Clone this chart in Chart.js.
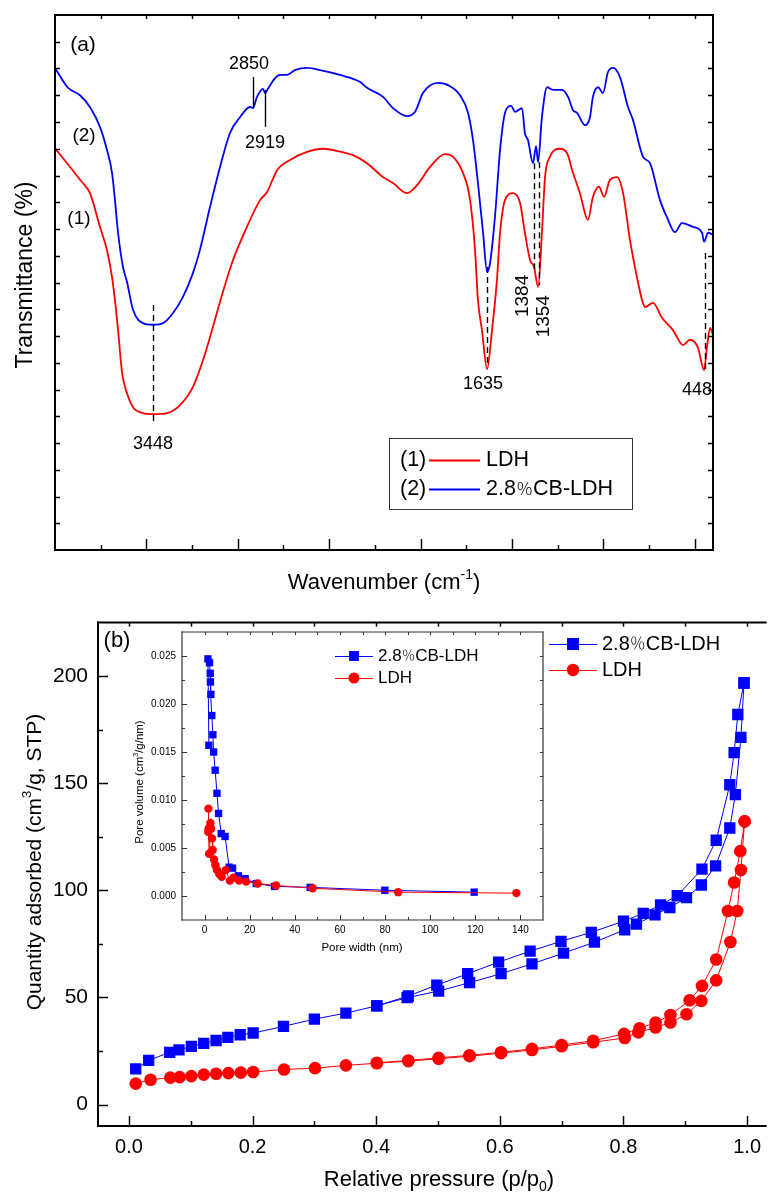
<!DOCTYPE html>
<html>
<head>
<meta charset="utf-8">
<title>FTIR and N2 sorption</title>
<script src="https://cdn.jsdelivr.net/npm/chart.js@4.4.1/dist/chart.umd.min.js"></script>
<style>
  html, body { margin: 0; padding: 0; background: #fff; }
  #wrap { position: relative; width: 770px; height: 1195px; overflow: hidden; }
  canvas { position: absolute; }
  #ftir { left: 0; top: 0; }
  #bet { left: 0; top: 600px; }
  #psd { left: 120px; top: 620px; }
</style>
</head>
<body>
<div id="wrap">
  <canvas id="ftir" width="770" height="600"></canvas>
  <canvas id="bet" width="770" height="595"></canvas>
  <canvas id="psd" width="440" height="345"></canvas>
</div>
<script>
// ---- (a) FTIR spectra, wavenumber (cm-1) vs transmittance (a.u.) ----
const IR_LDH_WN = [4000,3934,3863,3809,3754,3716,3688,3672,3655,3633,3606,3573,3519,3464,3387,3316,3245,3190,3136,3086,
  3026,2950,2878,2840,2785,2714,2621,2534,2457,2370,2293,2205,2151,2074,2019,1948,1866,1822,1768,1729,
  1702,1686,1664,1636,1609,1582,1565,1538,1494,1456,1429,1401,1379,1357,1336,1319,1292,1237,1199,1166,
  1128,1084,1057,1024,996,964,925,892,854,816,788,772,728,679,619,564,526,482,449,433,416,400];
const IR_LDH_T = [75.1,72.3,69.2,66.7,60.4,56.1,51.0,46.7,41.1,33.1,29.3,26.7,25.6,25.4,25.6,27.1,30.5,35.5,41.7,47.7,
  54.2,60.4,65.4,66.9,71.0,72.9,74.4,75.0,74.6,73.8,72.3,69.7,68.6,66.7,68.2,71.6,74.0,73.5,70.5,65.4,
  56.1,46.7,41.1,33.8,41.1,50.5,59.3,65.4,66.7,64.9,59.3,54.2,52.9,49.2,59.3,69.7,73.5,75.0,74.2,70.5,
  66.7,61.7,66.0,67.9,66.0,69.2,69.7,66.7,57.9,51.0,46.7,45.4,46.2,43.4,41.1,38.3,39.3,37.8,33.6,37.9,41.5,40.2];
const IR_CB_WN = [4000,3929,3863,3809,3754,3716,3688,3672,3655,3628,3606,3573,3519,3464,3409,3354,3300,3245,3207,3152,
  3097,3043,2988,2933,2917,2895,2862,2851,2835,2796,2769,2731,2687,2621,2550,2441,2331,2293,2205,2151,
  2074,2030,1987,1905,1839,1784,1740,1713,1686,1658,1636,1620,1593,1565,1538,1505,1483,1445,1429,1412,
  1385,1368,1357,1336,1308,1275,1226,1193,1166,1144,1100,1073,1057,1029,1002,975,947,909,865,838,
  783,745,690,652,608,570,510,460,449,427,400];
const IR_CB_T = [90.1,86.4,85.0,82.8,79.1,74.8,70.5,65.4,59.3,52.9,50.1,44.9,42.4,42.1,42.4,44.3,47.3,51.8,56.1,64.1,
  71.6,77.9,80.9,82.8,82.6,84.7,86.2,85.4,86.2,88.2,88.8,88.8,89.7,90.1,89.7,88.8,87.5,86.4,84.7,82.6,
  81.1,81.9,85.4,87.3,86.7,85.0,81.7,76.6,68.6,59.3,52.0,53.6,62.2,74.8,81.7,83.0,81.9,82.6,77.9,76.6,
  72.3,75.5,72.5,80.9,86.5,86.0,86.0,84.7,82.2,81.7,79.4,80.9,84.7,86.5,85.4,89.3,90.1,88.4,82.8,80.4,
  73.5,72.3,65.4,62.2,59.4,61.1,60.4,59.3,57.6,59.3,58.9];

// ---- (b) N2 isotherms, relative pressure vs quantity adsorbed ----
const BET_P_CB_ADS = [0.011,0.032,0.066,0.081,0.101,0.121,0.141,0.160,0.180,0.201,0.250,0.300,0.351,0.401,0.450,0.501,
  0.551,0.602,0.652,0.703,0.753,0.802,0.821,0.851,0.875,0.902,0.926,0.949,0.972,0.981,0.990,0.995];
const BET_Q_CB_ADS = [16.7,20.6,24.4,25.5,27.2,28.6,29.9,31.4,32.6,33.4,36.5,39.9,42.7,46.1,49.9,53.0,
  56.9,61.1,65.7,70.7,75.8,81.6,84.2,88.6,92.0,96.6,102.5,111.4,129.1,144.7,171.4,196.8];
const BET_P_CB_DES = [0.995,0.985,0.979,0.972,0.950,0.927,0.887,0.860,0.832,0.800,0.748,0.699,0.649,0.598,0.548,0.498,0.452,0.401];
const BET_Q_CB_DES = [196.8,182.1,164.3,149.3,123.4,109.9,97.5,93.2,89.3,85.6,80.4,76.2,71.6,66.5,61.1,55.8,50.7,46.1];
const BET_P_LDH_ADS = [0.011,0.035,0.067,0.082,0.101,0.121,0.141,0.161,0.181,0.201,0.251,0.301,0.351,0.401,0.452,0.501,
  0.551,0.602,0.652,0.700,0.751,0.802,0.824,0.852,0.876,0.902,0.926,0.950,0.973,0.984,0.990,0.996];
const BET_Q_LDH_ADS = [9.8,11.6,12.6,12.8,13.3,14.0,14.4,14.7,14.9,15.2,16.4,17.0,18.3,19.3,20.3,21.4,
  22.6,24.0,25.5,27.2,29.1,31.1,33.7,36.0,38.3,42.2,48.4,58.0,75.9,90.4,109.5,132.2];
const BET_P_LDH_DES = [0.996,0.989,0.979,0.969,0.950,0.927,0.907,0.876,0.852,0.826,0.801,0.751,0.700,0.652,0.602,0.551,0.501,0.452,0.401];
const BET_Q_LDH_DES = [132.2,118.3,103.7,90.4,67.7,55.4,48.7,41.8,38.3,35.6,33.0,29.8,27.8,26.0,24.4,23.0,21.8,20.6,19.5];
const BET_X_TICKS = [0, 0.2, 0.4, 0.6, 0.8, 1.0];
const BET_Y_TICKS = [0, 50, 100, 150, 200];

// ---- inset: pore size distribution ----
const PSD_W_CB = [1.9,1.5,2.2,2.5,2.6,2.8,3.2,3.7,4.0,4.7,5.5,6.2,7.4,9.1,10.9,12.4,15.0,18.0,22.9,31.0,46.8,79.9,119.5];
const PSD_V_CB = [0.0157,0.0247,0.0243,0.0232,0.0223,0.0210,0.0188,0.0168,0.0150,0.0131,0.0107,0.0086,0.0065,0.0062,
  0.0030,0.0029,0.0021,0.0018,0.0013,0.0010,0.0009,0.0006,0.0004];
const PSD_W_LDH = [1.6,1.7,1.8,2.0,2.3,2.6,2.9,3.3,3.6,4.2,4.8,5.5,6.5,7.6,9.4,11.2,12.8,15.3,18.4,23.5,31.7,47.9,85.8,138.2];
const PSD_V_LDH = [0.0067,0.0091,0.0070,0.0044,0.0072,0.0076,0.0070,0.0060,0.0048,0.0038,0.0032,0.0027,0.0023,0.0020,
  0.0027,0.0016,0.0019,0.0016,0.0015,0.0013,0.0011,0.0008,0.0004,0.0003];
const PSD_X_TICKS = [0, 20, 40, 60, 80, 100, 120, 140];
const PSD_Y_TICKS = [0, 0.005, 0.010, 0.015, 0.020, 0.025];

const FONT = 'Arial, "Liberation Sans", "Noto Sans CJK SC", sans-serif';
const CJK_FONT = '"Noto Sans CJK SC", sans-serif';
const RED = "#ff0000";
const BLUE = "#0000ff";
const PCT = "\uFF05";

function zip(xs, ys) {
  return xs.map((x, i) => ({ x: x, y: ys[i] }));
}

// text with optional super/subscript pieces; the full-width percent sign goes to the CJK font
function richText(ctx, parts, x, y, size, rot, align) {
  const small = Math.round(size * 0.62);
  const items = [];
  parts.forEach((p) => {
    const it = typeof p === "string" ? { t: p } : p;
    it.t.split(PCT).forEach((chunk, i) => {
      if (i > 0) items.push({ t: PCT, cjk: true, s: size * 0.8 });
      if (chunk) items.push(Object.assign({}, it, { t: chunk }));
    });
  });
  const fontOf = (it) => it.cjk ? "300 " + it.s + "px " + CJK_FONT : (it.sup || it.sub ? small : size) + "px " + FONT;
  ctx.save();
  ctx.translate(x, y);
  if (rot) ctx.rotate(rot);
  let total = 0;
  items.forEach((it) => {
    ctx.font = fontOf(it);
    it.w = ctx.measureText(it.t).width;
    total += it.w;
  });
  let cx = align === "left" ? 0 : align === "right" ? -total : -total / 2;
  ctx.textAlign = "left";
  ctx.textBaseline = "middle";
  ctx.fillStyle = "#000";
  items.forEach((it) => {
    ctx.font = fontOf(it);
    const dy = it.sup ? -size * 0.36 : it.sub ? size * 0.32 : it.cjk ? -size * 0.04 : 0;
    ctx.fillText(it.t, cx, dy);
    cx += it.w;
  });
  ctx.restore();
}

function marker(ctx, style, x, y, r, color) {
  ctx.fillStyle = color;
  ctx.beginPath();
  if (style === "rect") {
    const h = r * Math.SQRT1_2;
    ctx.rect(x - h, y - h, 2 * h, 2 * h);
  } else {
    ctx.arc(x, y, r, 0, Math.PI * 2);
  }
  ctx.fill();
}

// per-canvas decoration: frame, inward ticks, peak marks, texts, legend
const DECOR = {
  ftir: {
    frame: { width: 2, color: "#000", sides: ["left", "bottom", "top", "right"] },
    ticks: [
      { side: "bottom", len: 11, values: [3500, 3000, 2500, 2000, 1500, 1000, 500] },
      { side: "bottom", len: 5, values: [3750, 3250, 2750, 2250, 1750, 1250, 750] },
      { side: "top", len: 4, values: [3750, 3500, 3250, 3000, 2750, 2500, 2250, 2000, 1750, 1500, 1250, 1000, 750, 500] },
      { side: "left", len: 5, values: [5,10,15,20,25,30,35,40,45,50,55,60,65,70,75,80,85,90,95] },
      { side: "right", len: 5, values: [5,10,15,20,25,30,35,40,45,50,55,60,65,70,75,80,85,90,95] },
    ],
    marks: [
      { x: 2917, y1: 88.4, y2: 82.6 },
      { x: 2851, y1: 86.0, y2: 79.1 },
      { x: 3464, y1: 45.8, y2: 23.4, dash: true },
      { x: 1636, y1: 52.9, y2: 35.0, dash: true },
      { x: 1379, y1: 72.3, y2: 52.0, dash: true },
      { x: 1352, y1: 72.5, y2: 49.5, dash: true },
      { x: 444, y1: 55.5, y2: 33.6, dash: true },
    ],
    labels: [
      { t: "(a)", x: 3847, y: 94.4, size: 21 },
      { t: "(2)", x: 3841, y: 77.4, size: 19 },
      { t: "(1)", x: 3869, y: 61.9, size: 19 },
      { t: "2850", x: 2939, y: 90.8, size: 18 },
      { t: "2919", x: 2851, y: 76.1, size: 18 },
      { t: "3448", x: 3464, y: 19.8, size: 18 },
      { t: "1635", x: 1658, y: 31.0, size: 18 },
      { t: "1384", x: 1440, y: 47.5, size: 19, rot: -Math.PI / 2 },
      { t: "1354", x: 1325, y: 43.7, size: 19, rot: -Math.PI / 2 },
      { t: "448", x: 488, y: 29.9, size: 18 },
    ],
    titles: [
      { parts: ["Transmittance (%)"], x: 26, y: 275, size: 23, rot: -Math.PI / 2 },
      { parts: ["Wavenumber (cm", { t: "-1", sup: true }, ")"], x: 384, y: 583, size: 22 },
    ],
    legend: {
      box: { x: 389, y: 438, w: 243, h: 71 },
      size: 21.5, y0: 460, dy: 29, prefixX: 400, x1: 429, x2: 480, tx: 486, lineWidth: 2,
      rows: [{ ds: 0, prefix: "(1)" }, { ds: 1, prefix: "(2)" }],
    },
  },
  bet: {
    frame: { width: 2, color: "#000", sides: ["left", "bottom", "top"] },
    ticks: [
      { side: "bottom", len: 10, values: BET_X_TICKS },
      { side: "bottom", len: 5, values: [0.1, 0.3, 0.5, 0.7, 0.9] },
      { side: "left", len: 10, values: BET_Y_TICKS },
      { side: "left", len: 5, values: [25, 75, 125, 175] },
      { side: "top", len: 4, values: [0, 0.1, 0.2, 0.3, 0.4, 0.5, 0.6, 0.7, 0.8, 0.9, 1.0] },
    ],
    labels: [],
    titles: [
      { parts: ["(b)"], x: 117, y: 41, size: 22 },
      { parts: ["Quantity adsorbed (cm", { t: "3", sup: true }, "/g, STP)"], x: 35, y: 262, size: 21, rot: -Math.PI / 2 },
      { parts: ["Relative pressure (p/p", { t: "0", sub: true }, ")"], x: 439, y: 580, size: 22 },
    ],
    legend: {
      size: 20, y0: 44, dy: 26, x1: 549, x2: 597, xm: 573, tx: 602, lineWidth: 1,
      rows: [{ ds: 0, style: "rect", r: 8.5 }, { ds: 2, style: "circle", r: 6.2 }],
    },
  },
  psd: {
    fill: "#fff",
    frame: { width: 1.2, color: "#333", sides: ["left", "bottom", "top", "right"] },
    ticks: [
      { side: "bottom", len: 5, values: PSD_X_TICKS },
      { side: "bottom", len: 3, values: [10, 30, 50, 70, 90, 110, 130] },
      { side: "left", len: 5, values: PSD_Y_TICKS },
      { side: "left", len: 3, values: [0.0025, 0.0075, 0.0125, 0.0175, 0.0225] },
      { side: "top", len: 3, values: [0, 10, 20, 30, 40, 50, 60, 70, 80, 90, 100, 110, 120, 130, 140] },
      { side: "right", len: 3, values: [0, 0.0025, 0.005, 0.0075, 0.01, 0.0125, 0.015, 0.0175, 0.02, 0.0225, 0.025] },
    ],
    labels: [],
    titles: [
      { parts: ["Pore volume (cm", { t: "3", sup: true }, "/g/nm)"], x: 20, y: 162, size: 11.5, rot: -Math.PI / 2 },
      { parts: ["Pore width (nm)"], x: 242, y: 328, size: 11.5 },
    ],
    legend: {
      size: 17, y0: 36, dy: 22, x1: 215, x2: 253, xm: 234, tx: 258, lineWidth: 1,
      rows: [{ ds: 1, style: "rect", r: 7 }, { ds: 0, style: "circle", r: 5.5 }],
    },
  },
};

const decor = {
  id: "decor",
  beforeDatasetsDraw(chart) {
    const d = DECOR[chart.canvas.id];
    if (!d || !d.fill) return;
    const a = chart.chartArea;
    chart.ctx.save();
    chart.ctx.fillStyle = d.fill;
    chart.ctx.fillRect(a.left, a.top, a.right - a.left, a.bottom - a.top);
    chart.ctx.restore();
  },
  afterDatasetsDraw(chart) {
    const d = DECOR[chart.canvas.id];
    if (!d) return;
    const ctx = chart.ctx;
    const a = chart.chartArea;
    const sx = chart.scales.x;
    const sy = chart.scales.y;
    ctx.save();

    (d.marks || []).forEach((m) => {
      const x = Math.round(sx.getPixelForValue(m.x)) + 0.5;
      ctx.beginPath();
      ctx.setLineDash(m.dash ? [6, 4] : []);
      ctx.lineWidth = 1.4;
      ctx.strokeStyle = "#000";
      ctx.moveTo(x, sy.getPixelForValue(m.y1));
      ctx.lineTo(x, sy.getPixelForValue(m.y2));
      ctx.stroke();
    });
    ctx.setLineDash([]);

    const f = d.frame;
    ctx.strokeStyle = f.color;
    ctx.lineWidth = f.width;
    ctx.lineCap = "square";
    const edge = {
      left: [a.left, a.top, a.left, a.bottom],
      right: [a.right, a.top, a.right, a.bottom],
      top: [a.left, a.top, a.right, a.top],
      bottom: [a.left, a.bottom, a.right, a.bottom],
    };
    f.sides.forEach((s) => {
      const e = edge[s];
      ctx.beginPath();
      ctx.moveTo(e[0], e[1]);
      ctx.lineTo(e[2], e[3]);
      ctx.stroke();
    });
    ctx.lineCap = "butt";
    ctx.lineWidth = Math.max(1, f.width - 0.5);
    d.ticks.forEach((t) => {
      t.values.forEach((v) => {
        ctx.beginPath();
        if (t.side === "bottom" || t.side === "top") {
          const p = Math.round(sx.getPixelForValue(v)) + 0.5;
          const y0 = t.side === "bottom" ? a.bottom : a.top;
          const dir = t.side === "bottom" ? -1 : 1;
          ctx.moveTo(p, y0);
          ctx.lineTo(p, y0 + dir * t.len);
        } else {
          const p = Math.round(sy.getPixelForValue(v)) + 0.5;
          const x0 = t.side === "left" ? a.left : a.right;
          const dir = t.side === "left" ? 1 : -1;
          ctx.moveTo(x0, p);
          ctx.lineTo(x0 + dir * t.len, p);
        }
        ctx.stroke();
      });
    });

    d.labels.forEach((l) => {
      richText(ctx, [l.t], sx.getPixelForValue(l.x), sy.getPixelForValue(l.y), l.size, l.rot || 0);
    });
    d.titles.forEach((t) => richText(ctx, t.parts, t.x, t.y, t.size, t.rot || 0));

    const L = d.legend;
    if (L) {
      if (L.box) {
        ctx.fillStyle = "#fff";
        ctx.fillRect(L.box.x, L.box.y, L.box.w, L.box.h);
        ctx.strokeStyle = "#333";
        ctx.lineWidth = 1;
        ctx.strokeRect(L.box.x + 0.5, L.box.y + 0.5, L.box.w, L.box.h);
      }
      L.rows.forEach((r, i) => {
        const ds = chart.data.datasets[r.ds];
        const y = L.y0 + i * L.dy;
        if (r.prefix) richText(ctx, [r.prefix], L.prefixX, y, L.size, 0, "left");
        ctx.strokeStyle = ds.borderColor;
        ctx.lineWidth = L.lineWidth;
        ctx.beginPath();
        ctx.moveTo(L.x1, y + 0.5);
        ctx.lineTo(L.x2, y + 0.5);
        ctx.stroke();
        if (r.style) marker(ctx, r.style, L.xm, y, r.r, ds.borderColor);
        richText(ctx, [ds.label], L.tx, y, L.size, 0, "left");
      });
    }
    ctx.restore();
  },
};

Chart.defaults.font.family = FONT;
Chart.defaults.color = "#000";

function hiddenAxis(extra) {
  return Object.assign({
    ticks: { display: false },
    grid: { display: false, drawTicks: false },
    border: { display: false },
  }, extra);
}

// (a) FTIR
new Chart(document.getElementById("ftir"), {
  type: "line",
  data: {
    datasets: [
      { label: "LDH", data: zip(IR_LDH_WN, IR_LDH_T), borderColor: RED },
      { label: "2.8" + PCT + "CB-LDH", data: zip(IR_CB_WN, IR_CB_T), borderColor: BLUE },
    ],
  },
  options: {
    responsive: false,
    animation: false,
    events: [],
    layout: { padding: { top: 15, right: 57, left: 0, bottom: 0 }, autoPadding: false },
    elements: {
      point: { radius: 0 },
      line: { borderWidth: 1.8, cubicInterpolationMode: "monotone" },
    },
    plugins: { legend: { display: false }, tooltip: { enabled: false } },
    scales: {
      x: hiddenAxis({ type: "linear", reverse: true, min: 400, max: 4000, afterFit: (s) => { s.height = 50; } }),
      y: hiddenAxis({ type: "linear", min: 0, max: 100, afterFit: (s) => { s.width = 55; } }),
    },
  },
  plugins: [decor],
});

function tickAxis(min, max, values, fmt, size, pad, extra) {
  return Object.assign({
    type: "linear",
    min: min,
    max: max,
    afterBuildTicks: (s) => { s.ticks = values.map((v) => ({ value: v })); },
    ticks: { font: { size: size }, color: "#000", padding: pad, callback: fmt, autoSkip: false, maxRotation: 0 },
    grid: { display: false, drawTicks: false },
    border: { display: false },
  }, extra);
}

function series(label, xs, ys, color, style, r) {
  return {
    label: label,
    data: zip(xs, ys),
    showLine: true,
    borderColor: color,
    backgroundColor: color,
    borderWidth: 1,
    pointStyle: style,
    pointRadius: r,
    pointBackgroundColor: color,
    pointBorderColor: color,
    pointBorderWidth: 0,
  };
}

// (b) N2 adsorption-desorption isotherms
new Chart(document.getElementById("bet"), {
  type: "scatter",
  data: {
    datasets: [
      series("2.8" + PCT + "CB-LDH", BET_P_CB_ADS, BET_Q_CB_ADS, BLUE, "rect", 8),
      series("2.8" + PCT + "CB-LDH", BET_P_CB_DES, BET_Q_CB_DES, BLUE, "rect", 8),
      series("LDH", BET_P_LDH_ADS, BET_Q_LDH_ADS, RED, "circle", 6.3),
      series("LDH", BET_P_LDH_DES, BET_Q_LDH_DES, RED, "circle", 6.3),
    ],
  },
  options: {
    responsive: false,
    animation: false,
    events: [],
    layout: { padding: { top: 19, right: 0, left: 0, bottom: 0 }, autoPadding: false },
    plugins: { legend: { display: false }, tooltip: { enabled: false } },
    scales: {
      x: tickAxis(-0.05, 1.03, BET_X_TICKS, (v) => v.toFixed(1), 20, 9, { afterFit: (s) => { s.height = 69; } }),
      y: tickAxis(-10, 225, BET_Y_TICKS, (v) => String(v), 21, 10, { afterFit: (s) => { s.width = 98; } }),
    },
  },
  plugins: [decor],
});

// inset: pore size distribution
new Chart(document.getElementById("psd"), {
  type: "scatter",
  data: {
    datasets: [
      series("LDH", PSD_W_LDH, PSD_V_LDH, RED, "circle", 4.2),
      series("2.8" + PCT + "CB-LDH", PSD_W_CB, PSD_V_CB, BLUE, "rect", 5.2),
    ],
  },
  options: {
    responsive: false,
    animation: false,
    events: [],
    layout: { padding: { top: 4, right: 17, left: 0, bottom: 0 }, autoPadding: false },
    plugins: { legend: { display: false }, tooltip: { enabled: false } },
    scales: {
      x: tickAxis(-10, 150, PSD_X_TICKS, (v) => String(v), 10, 4, { afterFit: (s) => { s.height = 45; } }),
      y: tickAxis(-0.0025, 0.0275, PSD_Y_TICKS, (v) => v.toFixed(3), 10, 6, { afterFit: (s) => { s.width = 62; } }),
    },
  },
  plugins: [decor],
});
</script>
</body>
</html>
